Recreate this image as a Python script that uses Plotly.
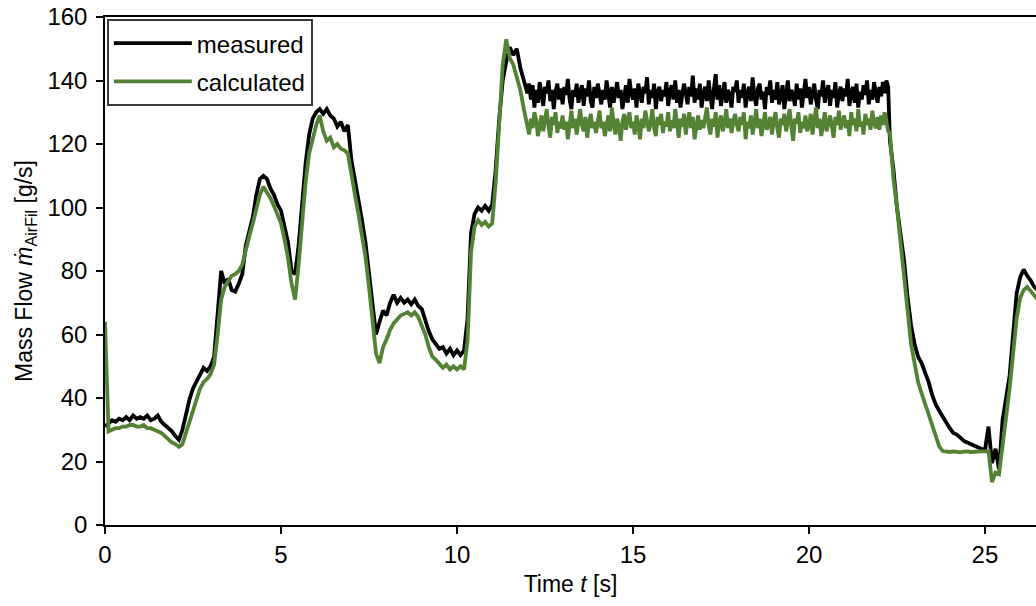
import numpy as np
import plotly.graph_objects as go

# ---------------- data ----------------
# Segment A: 0.0 .. 11.9 s (0.1 s sampling)
measured_a = [
    31, 32, 33, 32.5, 33.5, 33, 34, 33, 34.5, 33.5,
    34, 33.5, 34.5, 33, 33.5, 34.5, 32.5, 31.5, 30.5, 29.5,
    28, 26.8, 30, 35, 39.5, 43, 45, 47, 49.5, 48.5,
    50, 53, 66, 80, 76, 77.5, 74, 73.5, 76, 79,
    88, 93, 97, 104, 109, 110, 109, 106, 104, 101,
    99, 94, 89, 80, 79, 88, 101, 114, 123, 128,
    130, 131, 129.5, 131, 129, 128, 125.5, 127, 124, 126,
    115, 109, 103, 96, 89, 79, 69, 60, 64, 67.5,
    66, 70, 72.5, 70, 71.5, 70, 71, 69.5, 71, 69,
    68, 64.5, 61, 58.5, 57, 55.5, 56, 54, 55.5, 53.5,
    55, 53.5, 55, 65, 92, 98, 100, 99, 100.5, 99,
    101, 112, 128, 140, 146, 150.5, 148, 150, 144, 140,
]
calculated_a = [
    64, 29.5, 30, 30.5, 30.5, 31, 31, 31.5, 31.5, 31,
    31, 31.5, 30.5, 30.5, 30, 29.5, 29, 28, 27, 26,
    25.5, 24.6, 25.5, 29, 33, 36.5, 40, 43, 45, 46,
    47.5, 50.5, 60, 71, 75, 77, 78.5, 79, 80, 82,
    87, 91, 95, 100, 104, 106.5, 105, 103, 100.5, 98,
    95, 90, 84, 76, 71, 82, 95, 108, 117, 122,
    126, 129, 124, 121, 122, 119, 120, 118.5, 118, 117,
    110, 104, 98, 92, 84.5, 75, 64, 54, 51, 56,
    58.5, 61.5, 63.5, 65, 66, 66.5, 67, 66, 67, 65.5,
    63, 60, 56, 53, 52, 50.5, 49.5, 50.5, 49, 50,
    49, 50, 49, 58, 86, 94, 96, 94.5, 95.5, 94,
    95, 108, 126, 145, 153, 147, 145, 141, 137, 131,
]

# Segment B: 12.00 .. 22.25 s plateau (0.05 s sampling)
measured_b = [
    136, 139, 134, 138.5, 131.5, 137, 133, 139.5, 135, 132, 138, 136, 140, 133.5, 137, 131, 136.5, 139, 134, 137.5,
    132.5, 138, 135.5, 140.5, 134, 131, 137, 135, 139, 133, 136, 138.5, 132, 137.5, 135, 140, 133.5, 131.5, 138, 134.5,
    139, 135, 132.5, 137, 134, 140, 136.5, 131.5, 138, 133, 136, 139.5, 134.5, 137, 131, 135.5, 138.5, 133, 140.5, 136,
    134, 137.5, 131.5, 139, 135, 133, 138, 136, 141, 132.5, 137, 134.5, 139, 131, 136.5, 138, 133.5, 137, 135, 139.5,
    132, 136.5, 138.5, 134, 140, 133, 137, 131.5, 135.5, 139, 136, 132.5, 138, 135, 141.5, 133, 137.5, 134, 139, 131.5,
    136, 138, 133.5, 140, 135, 131, 137.5, 142, 134, 138.5, 132, 136, 139.5, 133, 137, 135.5, 131.5, 138, 136.5, 140,
    133, 137, 134.5, 139, 131.5, 136, 138, 133.5, 141, 135, 132, 137.5, 139, 134, 136.5, 131, 138, 135.5, 140, 133,
    137, 134, 139.5, 132.5, 136, 138.5, 131, 135, 140, 133.5, 137, 135.5, 132, 139, 134, 137.5, 131.5, 136, 140.5, 134.5,
    138, 132.5, 136, 139, 134, 131, 137, 135, 140, 133, 136.5, 138.5, 132, 137, 134.5, 139.5, 131.5, 136, 138, 133.5,
    137.5, 135, 140.5, 132, 136, 138, 133, 139, 131.5, 136.5, 134, 138.5, 135.5, 140, 132.5, 137, 134, 139.5, 136, 133,
    138, 135, 139.5, 136, 140, 138,
]
calculated_b = [
    126, 123, 128, 125, 130, 127.5, 122.5, 126, 129, 124, 127, 131, 125.5, 122, 128.5, 126, 130, 123.5, 127, 125,
    129, 124.5, 127, 121.5, 126, 130.5, 125, 128, 123, 127.5, 131, 126, 124, 128.5, 122, 126.5, 129.5, 125, 127, 123.5,
    128, 130.5, 125, 127, 122.5, 126, 129, 124, 131.5, 126.5, 123, 128, 125.5, 121, 127, 129.5, 124.5, 127.5, 130, 125,
    127, 123, 129, 126, 121.5, 128, 125, 130.5, 127, 124, 126.5, 131, 125, 122.5, 128.5, 126, 129.5, 123.5, 127, 125.5,
    130, 124, 127.5, 125, 131, 126, 122, 128, 125.5, 129.5, 123, 127, 130, 125, 128.5, 121.5, 126, 129, 124.5, 127.5,
    125, 129, 131.5, 126, 123, 128, 125.5, 130, 122, 127, 129, 124, 126.5, 131, 125, 128, 123.5, 127, 129.5, 126,
    124, 128.5, 126, 130, 121.5, 127, 125, 129, 123, 126.5, 131, 125, 128, 122.5, 127, 130, 124.5, 126, 128.5, 123,
    127.5, 130, 125, 122, 128, 126, 129.5, 124, 127, 131, 125.5, 121, 128, 126.5, 130, 123.5, 127, 125, 129, 124,
    126, 129.5, 123, 127.5, 131.5, 125, 128, 122.5, 126.5, 130, 124, 127, 129, 125.5, 122, 128.5, 126, 130.5, 124.5, 127,
    129, 125, 127.5, 122.5, 130, 126, 128, 124, 131, 125.5, 127, 123, 129.5, 126, 128, 124.5, 130.5, 126.5, 125, 128.5,
    124.5, 129, 126, 130, 127, 124,
]

# Segment C: 22.3 .. 26.5 s (0.1 s sampling)
measured_c = [
    121, 112, 100, 92, 83.5, 72, 63,
    57, 53, 51, 48, 45, 41, 38, 36, 34, 32,
    30.5, 29, 28.5, 27.5, 26.5, 26, 25.5, 25, 24.5, 24,
    23.5, 31, 19.5, 24, 17.5, 33, 39.5, 47, 60, 73,
    78, 80.5, 78.5, 77, 75, 74,
]
calculated_c = [
    123.5, 109, 100, 89, 79, 66, 57,
    51, 45, 41.5, 38, 35, 31.5, 28, 24.8, 23.3, 23,
    23, 23.2, 23, 22.9, 23.1, 23.2, 23, 23.1, 23.3, 23.2,
    23.2, 23.3, 13.5, 16.5, 16, 24.5, 35, 43, 54, 65,
    71.5, 74, 75, 73.5, 72, 71,
]

x_ticks = [0, 5, 10, 15, 20, 25]
y_ticks = [0, 20, 40, 60, 80, 100, 120, 140, 160]

# sampling grids of the three segments
time_a = np.round(np.arange(len(measured_a)) * 0.1, 2)
time_b = np.round(12.0 + np.arange(len(measured_b)) * 0.05, 2)
time_c = np.round(22.3 + np.arange(len(measured_c)) * 0.1, 2)
time_s = np.concatenate([time_a, time_b, time_c])
measured = measured_a + measured_b + measured_c
calculated = calculated_a + calculated_b + calculated_c

FONT = "Liberation Sans, Arial, Helvetica, sans-serif"

fig = go.Figure()
fig.add_trace(go.Scatter(x=time_s, y=measured, mode="lines", name="measured",
                         legendgroup="m",
                         line=dict(color="#000000", width=3.8)))
fig.add_trace(go.Scatter(x=time_s, y=calculated, mode="lines", name="calculated",
                         legendgroup="c",
                         line=dict(color="#548235", width=3.8)))

axis_common = dict(
    showgrid=False, zeroline=False, showline=True, linecolor="black", linewidth=1.5,
    ticks="outside", ticklen=7, tickwidth=1.5, tickcolor="black",
    tickfont=dict(family=FONT, size=24, color="black"),
)

fig.update_layout(
    width=1036, height=606,
    margin=dict(l=105, r=0, t=17, b=81),
    paper_bgcolor="white", plot_bgcolor="white",
    font=dict(family=FONT, size=23, color="black"),
    xaxis=dict(range=[0, 26.45], tickvals=x_ticks, mirror=True,
               title=dict(text="Time <i>t</i> [s]", font=dict(family=FONT, size=23), standoff=9),
               **axis_common),
    yaxis=dict(range=[0, 160], tickvals=y_ticks, ticklabelstandoff=4,
               title=dict(text="Mass Flow <i>ṁ</i><sub>AirFil</sub> [g/s]",
                          font=dict(family=FONT, size=23), standoff=8),
               **axis_common),
    legend=dict(x=0.002, y=0.996, xanchor="left", yanchor="top",
                bgcolor="white", bordercolor="#3a3a3a", borderwidth=2,
                font=dict(family=FONT, size=24), itemwidth=78,
                tracegroupgap=4),
    showlegend=True,
)

fig.write_html("out.html")
